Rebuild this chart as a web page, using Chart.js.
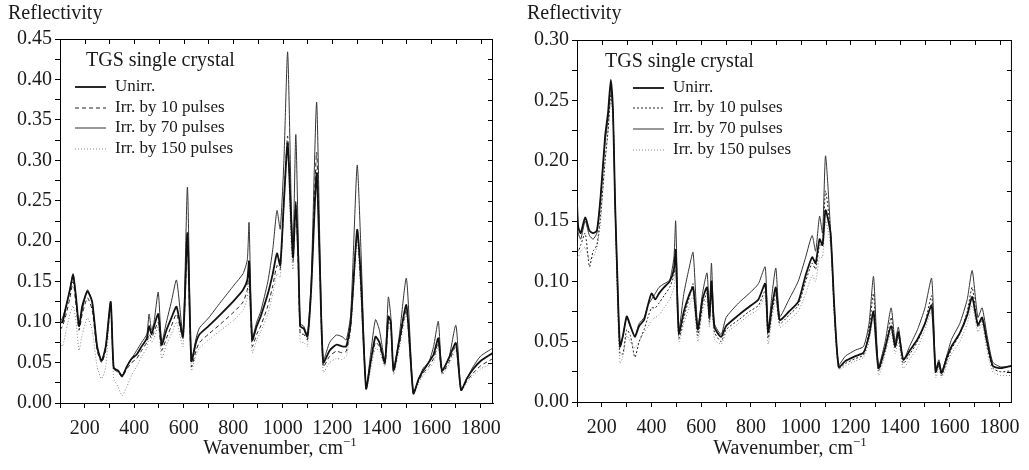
<!DOCTYPE html>
<html>
<head>
<meta charset="utf-8">
<script src="https://cdn.jsdelivr.net/npm/chart.js@4/dist/chart.umd.min.js"></script>
<style>
  body { margin: 0; background: #fff; }
  #wrap { position: relative; width: 1029px; height: 470px; font-family: 'Liberation Serif', 'Times New Roman', serif; color: #1a1a1a; }
  canvas { position: absolute; top: 0; }
  .ytitle { position: absolute; top: 1px; font-size: 20px; }
  .xtitle { position: absolute; top: 436px; font-size: 20px; width: 300px; text-align: center; }
  sup { font-size: 13px; vertical-align: 0; position: relative; top: -8px; }
</style>
</head>
<body>
<div id="wrap">
  <canvas id="left" width="510" height="470" style="left:0"></canvas>
  <canvas id="right" width="519" height="470" style="left:510px"></canvas>
  <div class="ytitle" style="left:8px">Reflectivity</div>
  <div class="ytitle" style="left:527px">Reflectivity</div>
  <div class="xtitle" style="left:130px">Wavenumber, cm<sup>−1</sup></div>
  <div class="xtitle" style="left:640px">Wavenumber, cm<sup>−1</sup></div>
</div>
<script>
const seriesNames = ['Unirr.', 'Irr. by 10 pulses', 'Irr. by 70 pulses', 'Irr. by 150 pulses'];

// left panel
const leftWavenumber = [100, 110, 125, 140, 153, 165, 177, 190, 211, 230, 250, 268, 285, 305, 317, 335, 351, 370, 390, 410, 430, 451, 460, 470, 480, 497, 511, 530, 550, 571, 597, 615, 631, 650, 664, 700, 750, 804, 840, 857, 864, 877, 895, 911, 940, 960, 977, 990, 1005, 1020, 1035, 1042, 1053, 1063, 1071, 1085, 1100, 1115, 1137, 1150, 1164, 1190, 1217, 1240, 1257, 1275, 1301, 1315, 1337, 1355, 1375, 1391, 1413, 1427, 1437, 1448, 1470, 1500, 1528, 1550, 1568, 1590, 1610, 1629, 1644, 1671, 1700, 1721, 1744, 1770, 1800, 1850];
const leftUnirr = [0.10, 0.10, 0.12, 0.14, 0.158, 0.13, 0.095, 0.12, 0.138, 0.125, 0.07, 0.052, 0.07, 0.125, 0.043, 0.04, 0.033, 0.045, 0.055, 0.06, 0.07, 0.08, 0.095, 0.085, 0.095, 0.11, 0.072, 0.09, 0.105, 0.119, 0.082, 0.21, 0.052, 0.075, 0.085, 0.095, 0.11, 0.127, 0.14, 0.152, 0.175, 0.078, 0.095, 0.107, 0.135, 0.16, 0.185, 0.17, 0.25, 0.321, 0.22, 0.18, 0.249, 0.18, 0.095, 0.092, 0.082, 0.14, 0.284, 0.17, 0.05, 0.065, 0.072, 0.07, 0.07, 0.10, 0.214, 0.16, 0.018, 0.05, 0.082, 0.075, 0.05, 0.107, 0.10, 0.041, 0.075, 0.121, 0.012, 0.03, 0.04, 0.05, 0.06, 0.080, 0.040, 0.055, 0.074, 0.016, 0.03, 0.042, 0.052, 0.062];
const leftIrr10 = [0.09, 0.095, 0.11, 0.13, 0.15, 0.12, 0.09, 0.11, 0.13, 0.115, 0.065, 0.05, 0.065, 0.12, 0.042, 0.038, 0.032, 0.042, 0.05, 0.055, 0.065, 0.075, 0.085, 0.08, 0.088, 0.10, 0.065, 0.08, 0.095, 0.11, 0.08, 0.20, 0.045, 0.065, 0.075, 0.085, 0.098, 0.113, 0.125, 0.14, 0.165, 0.07, 0.085, 0.095, 0.12, 0.145, 0.17, 0.165, 0.25, 0.33, 0.21, 0.175, 0.245, 0.17, 0.085, 0.085, 0.078, 0.14, 0.31, 0.17, 0.045, 0.058, 0.064, 0.062, 0.064, 0.095, 0.21, 0.15, 0.02, 0.048, 0.075, 0.07, 0.048, 0.10, 0.095, 0.038, 0.07, 0.115, 0.012, 0.028, 0.037, 0.045, 0.055, 0.075, 0.037, 0.05, 0.07, 0.016, 0.027, 0.037, 0.046, 0.055];
const leftIrr70 = [0.10, 0.105, 0.12, 0.14, 0.16, 0.13, 0.095, 0.115, 0.14, 0.125, 0.07, 0.052, 0.07, 0.125, 0.045, 0.04, 0.034, 0.045, 0.055, 0.065, 0.075, 0.085, 0.11, 0.09, 0.10, 0.137, 0.075, 0.10, 0.125, 0.152, 0.085, 0.267, 0.052, 0.08, 0.093, 0.105, 0.125, 0.146, 0.16, 0.177, 0.223, 0.08, 0.10, 0.113, 0.15, 0.19, 0.238, 0.215, 0.30, 0.434, 0.24, 0.19, 0.332, 0.20, 0.098, 0.095, 0.084, 0.15, 0.372, 0.20, 0.053, 0.075, 0.084, 0.082, 0.078, 0.11, 0.294, 0.20, 0.018, 0.06, 0.103, 0.090, 0.053, 0.131, 0.107, 0.041, 0.08, 0.154, 0.012, 0.03, 0.043, 0.05, 0.07, 0.101, 0.041, 0.055, 0.096, 0.016, 0.030, 0.045, 0.058, 0.068];
const leftIrr150 = [0.075, 0.07, 0.09, 0.11, 0.12, 0.10, 0.065, 0.085, 0.105, 0.09, 0.045, 0.03, 0.045, 0.12, 0.03, 0.02, 0.009, 0.02, 0.035, 0.045, 0.058, 0.068, 0.08, 0.075, 0.08, 0.095, 0.055, 0.072, 0.085, 0.10, 0.07, 0.20, 0.04, 0.06, 0.068, 0.078, 0.09, 0.103, 0.115, 0.13, 0.16, 0.062, 0.078, 0.088, 0.11, 0.135, 0.16, 0.155, 0.24, 0.31, 0.19, 0.165, 0.24, 0.16, 0.075, 0.075, 0.07, 0.13, 0.29, 0.16, 0.038, 0.05, 0.055, 0.054, 0.058, 0.09, 0.20, 0.14, 0.017, 0.04, 0.068, 0.063, 0.045, 0.095, 0.09, 0.035, 0.065, 0.11, 0.01, 0.025, 0.034, 0.042, 0.05, 0.07, 0.035, 0.047, 0.065, 0.015, 0.025, 0.034, 0.042, 0.05];

// right panel
const rightWavenumber = [100, 105, 115, 133, 150, 165, 180, 195, 213, 225, 236, 245, 253, 263, 273, 285, 300, 315, 333, 350, 370, 385, 400, 415, 430, 450, 473, 490, 497, 510, 530, 550, 567, 586, 605, 623, 633, 641, 653, 680, 700, 750, 793, 830, 857, 869, 885, 900, 916, 953, 990, 1020, 1046, 1060, 1076, 1088, 1100, 1120, 1135, 1153, 1180, 1220, 1253, 1275, 1293, 1313, 1340, 1364, 1380, 1393, 1413, 1440, 1470, 1500, 1527, 1543, 1556, 1567, 1590, 1607, 1640, 1670, 1690, 1713, 1730, 1750, 1773, 1806, 1850];
const rightUnirr = [0.165, 0.145, 0.14, 0.153, 0.142, 0.14, 0.142, 0.17, 0.22, 0.24, 0.267, 0.24, 0.167, 0.10, 0.046, 0.055, 0.071, 0.063, 0.054, 0.063, 0.068, 0.08, 0.09, 0.085, 0.09, 0.095, 0.10, 0.11, 0.126, 0.057, 0.075, 0.088, 0.095, 0.06, 0.085, 0.095, 0.07, 0.10, 0.062, 0.054, 0.063, 0.072, 0.079, 0.085, 0.098, 0.058, 0.08, 0.095, 0.068, 0.075, 0.083, 0.105, 0.12, 0.115, 0.135, 0.13, 0.159, 0.14, 0.08, 0.029, 0.034, 0.038, 0.041, 0.055, 0.075, 0.028, 0.045, 0.063, 0.046, 0.058, 0.035, 0.043, 0.052, 0.065, 0.080, 0.025, 0.033, 0.024, 0.038, 0.046, 0.057, 0.072, 0.087, 0.064, 0.07, 0.05, 0.03, 0.028, 0.03];
const rightIrr10 = [0.13, 0.125, 0.13, 0.14, 0.112, 0.125, 0.13, 0.155, 0.2, 0.225, 0.255, 0.24, 0.167, 0.09, 0.04, 0.04, 0.06, 0.055, 0.037, 0.05, 0.06, 0.07, 0.078, 0.078, 0.082, 0.088, 0.095, 0.105, 0.12, 0.053, 0.07, 0.085, 0.098, 0.055, 0.08, 0.09, 0.066, 0.095, 0.058, 0.05, 0.06, 0.068, 0.075, 0.08, 0.092, 0.053, 0.075, 0.09, 0.065, 0.072, 0.08, 0.1, 0.115, 0.11, 0.13, 0.13, 0.175, 0.14, 0.075, 0.028, 0.032, 0.036, 0.039, 0.06, 0.09, 0.026, 0.043, 0.07, 0.045, 0.055, 0.032, 0.04, 0.05, 0.065, 0.088, 0.024, 0.03, 0.022, 0.035, 0.044, 0.056, 0.075, 0.095, 0.062, 0.068, 0.047, 0.028, 0.025, 0.026];
const rightIrr70 = [0.155, 0.14, 0.135, 0.15, 0.138, 0.135, 0.14, 0.17, 0.215, 0.235, 0.262, 0.24, 0.167, 0.10, 0.046, 0.055, 0.07, 0.062, 0.055, 0.065, 0.07, 0.08, 0.085, 0.09, 0.095, 0.098, 0.101, 0.12, 0.15, 0.06, 0.09, 0.11, 0.124, 0.062, 0.09, 0.107, 0.075, 0.115, 0.065, 0.056, 0.07, 0.082, 0.09, 0.098, 0.112, 0.06, 0.09, 0.111, 0.071, 0.085, 0.10, 0.12, 0.138, 0.125, 0.154, 0.14, 0.204, 0.143, 0.08, 0.031, 0.038, 0.043, 0.046, 0.065, 0.104, 0.03, 0.05, 0.078, 0.05, 0.062, 0.035, 0.047, 0.06, 0.078, 0.1025, 0.027, 0.035, 0.025, 0.04, 0.052, 0.065, 0.085, 0.109, 0.07, 0.078, 0.055, 0.033, 0.029, 0.03];
const rightIrr150 = [0.12, 0.12, 0.125, 0.128, 0.118, 0.12, 0.128, 0.15, 0.2, 0.225, 0.25, 0.235, 0.16, 0.08, 0.032, 0.038, 0.055, 0.05, 0.045, 0.05, 0.058, 0.062, 0.068, 0.07, 0.072, 0.078, 0.085, 0.095, 0.11, 0.05, 0.065, 0.078, 0.088, 0.05, 0.075, 0.085, 0.062, 0.09, 0.052, 0.048, 0.057, 0.065, 0.072, 0.077, 0.088, 0.048, 0.07, 0.085, 0.062, 0.068, 0.075, 0.09, 0.105, 0.1, 0.12, 0.12, 0.15, 0.13, 0.07, 0.027, 0.03, 0.034, 0.037, 0.05, 0.07, 0.022, 0.04, 0.058, 0.04, 0.05, 0.028, 0.036, 0.045, 0.06, 0.075, 0.02, 0.027, 0.02, 0.032, 0.04, 0.05, 0.065, 0.08, 0.058, 0.065, 0.042, 0.025, 0.022, 0.022];

const FONT = 'Liberation Serif';
const TEXT = '#1a1a1a';

// top + right border with inward ticks, plus the in-plot legend
const framePlugin = {
    id: 'frame',
    afterDraw(chart, args, opts) {
        const c = chart.ctx, a = chart.chartArea;
        const xs = chart.scales.x, ys = chart.scales.y;
        c.save();
        c.strokeStyle = '#000';
        c.lineWidth = 1;
        c.beginPath();
        c.moveTo(a.left, a.top + 0.5); c.lineTo(a.right, a.top + 0.5);
        c.moveTo(a.right - 0.5, a.top); c.lineTo(a.right - 0.5, a.bottom);
        xs.ticks.forEach(t => {
            const px = Math.round(xs.getPixelForValue(t.value)) + 0.5;
            c.moveTo(px, a.top); c.lineTo(px, a.top + 5);
        });
        ys.ticks.forEach(t => {
            const py = Math.round(ys.getPixelForValue(t.value)) + 0.5;
            c.moveTo(a.right, py); c.lineTo(a.right - 5, py);
        });
        c.stroke();

        // legend
        c.fillStyle = TEXT;
        c.textBaseline = 'alphabetic';
        c.font = '20px "' + FONT + '"';
        c.fillText('TGS single crystal', opts.titleX, opts.titleY);
        c.font = '17px "' + FONT + '"';
        c.textBaseline = 'middle';
        chart.data.datasets.forEach((ds, i) => {
            const y = opts.rows[i];
            c.strokeStyle = ds.borderColor;
            c.lineWidth = ds.borderWidth;
            c.setLineDash(ds.borderDash || []);
            c.beginPath();
            c.moveTo(opts.lineX, y); c.lineTo(opts.lineX + 31, y);
            c.stroke();
            c.setLineDash([]);
            c.fillText(ds.label, opts.lineX + 40, y);
        });
        c.restore();
    }
};

function makeChart(id, xs, ys, yMax, dash10, axisW, padRight, padTop, axisH, legend) {
    const styles = [
        { color: '#111', width: 1.8, dash: [] },
        { color: '#222', width: 1, dash: dash10 },
        { color: '#333', width: 1, dash: [] },
        { color: '#888', width: 1, dash: [1, 2] }
    ];
    const datasets = ys.map((vals, i) => ({
        label: seriesNames[i],
        data: xs.map((x, j) => ({ x: x, y: vals[j] })),
        borderColor: styles[i].color,
        borderWidth: styles[i].width,
        borderDash: styles[i].dash,
        pointRadius: 0,
        tension: 0.2,
        fill: false
    }));

    new Chart(document.getElementById(id), {
        type: 'line',
        data: { datasets: datasets },
        options: {
            responsive: false,
            animation: false,
            layout: { padding: { top: padTop, right: padRight, left: 0, bottom: 0 } },
            plugins: {
                legend: { display: false },
                tooltip: { enabled: false },
                frame: legend
            },
            scales: {
                x: {
                    type: 'linear', min: 100, max: 1850,
                    ticks: {
                        stepSize: 100, includeBounds: false, autoSkip: false, maxRotation: 0,
                        padding: 9, color: TEXT, font: { family: FONT, size: 20 },
                        callback: v => (v % 200 === 0 ? String(v) : '')
                    },
                    grid: { drawOnChartArea: false, tickLength: 5, color: '#000' },
                    border: { color: '#000', width: 1 },
                    afterFit: s => { s.height = axisH; }
                },
                y: {
                    min: 0, max: yMax,
                    ticks: {
                        stepSize: 0.025, autoSkip: false, padding: 3, color: TEXT,
                        font: { family: FONT, size: 20 },
                        callback: v => (Math.round(v * 1000) % 50 === 0 ? v.toFixed(2) : '')
                    },
                    grid: { drawOnChartArea: false, tickLength: 5, color: '#000' },
                    border: { color: '#000', width: 1 },
                    afterFit: s => { s.width = axisW; }
                }
            }
        },
        plugins: [framePlugin]
    });
}

makeChart('left', leftWavenumber, [leftUnirr, leftIrr10, leftIrr70, leftIrr150], 0.45, [4, 3],
    60, 13, 39, 67, { titleX: 86, titleY: 66, lineX: 75, rows: [87, 108, 128, 149] });
makeChart('right', rightWavenumber, [rightUnirr, rightIrr10, rightIrr70, rightIrr150], 0.30, [2, 2],
    67, 17, 40, 68, { titleX: 95, titleY: 67, lineX: 123, rows: [88, 108, 129, 150] });
</script>
</body>
</html>
